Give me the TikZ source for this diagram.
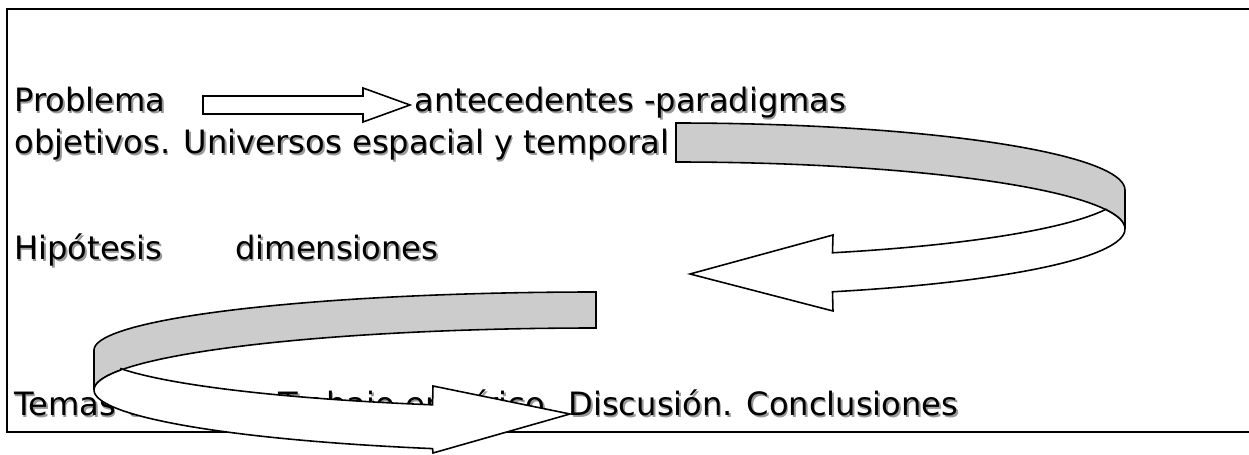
\documentclass[tikz,border=0pt]{standalone}
\usepackage{fontspec}
\setmainfont{DejaVu Sans}
\newcommand\shtext[1]{\rlap{\kern0.9pt\raisebox{-0.9pt}{\color{black!40}#1}}#1}

\begin{document}
\begin{tikzpicture}[x=0.02cm,y=-0.02cm,
    frame/.style={line width=1.6pt},
    txt/.style={anchor=base west,inner sep=0pt,font=\fontsize{18.3}{22}\selectfont},
    band/.style={draw,line width=0.9pt,fill=black!20},
    front/.style={draw,line width=0.9pt,fill=white}]
  \useasboundingbox (0,0) rectangle (1249,455);
  % frame
  \draw[frame] (1249,9) -- (7,9) -- (7,432) -- (1249,432);
  % text lines
  \node[txt] (prob) at (14,112) {\shtext{Problema}};
  \node[txt] (ante) at (414,112) {\shtext{antecedentes -paradigmas}};
  \node[txt] (obj)  at (14,154) {\shtext{objetivos. Universos espacial y temporal}};
  \node[txt] (hip)  at (14,260) {\shtext{Hipótesis}};
  \node[txt] (dim)  at (235,260) {\shtext{dimensiones}};
  \node[txt] (tem)  at (14,416) {\shtext{Temas teóricos. Trabajo empírico. Discusión. Conclusiones}};
  % straight arrow
  \draw[front] (203,96) -- (363,96) -- (363,88) -- (410,105) -- (363,122) -- (363,114) -- (203,114) -- cycle;
  % upper curved arrow
  \draw[band] plot[domain=90:0,samples=40,variable=\t] ({676+449*cos(\t)},{190-67*sin(\t)})
    -- (1125,229)
    -- plot[domain=0:90,samples=40,variable=\t] ({676+449*cos(\t)},{229-67*sin(\t)}) -- cycle;
  \draw[front] plot[domain=16.92:-69.6,samples=50,variable=\t] ({676+449*cos(\t)},{229-67*sin(\t)})
    -- (833,311) -- (690,274) -- (833,235)
    -- plot[domain=-69.6:-16.92,samples=40,variable=\t] ({676+449*cos(\t)},{190-67*sin(\t)}) -- cycle;
  % lower curved arrow
  \draw[band] plot[domain=90:180,samples=40,variable=\t] ({596+502*cos(\t)},{350-58*sin(\t)})
    -- (94,390)
    -- plot[domain=180:90,samples=40,variable=\t] ({596+502*cos(\t)},{390-62*sin(\t)}) -- cycle;
  \draw[front] plot[domain=161.2:251,samples=50,variable=\t] ({596+502*cos(\t)},{390-62*sin(\t)})
    -- (433,453) -- (570,414) -- (433,386)
    -- plot[domain=251:198.8,samples=40,variable=\t] ({596+502*cos(\t)},{350-58*sin(\t)}) -- cycle;
\end{tikzpicture}
\end{document}
